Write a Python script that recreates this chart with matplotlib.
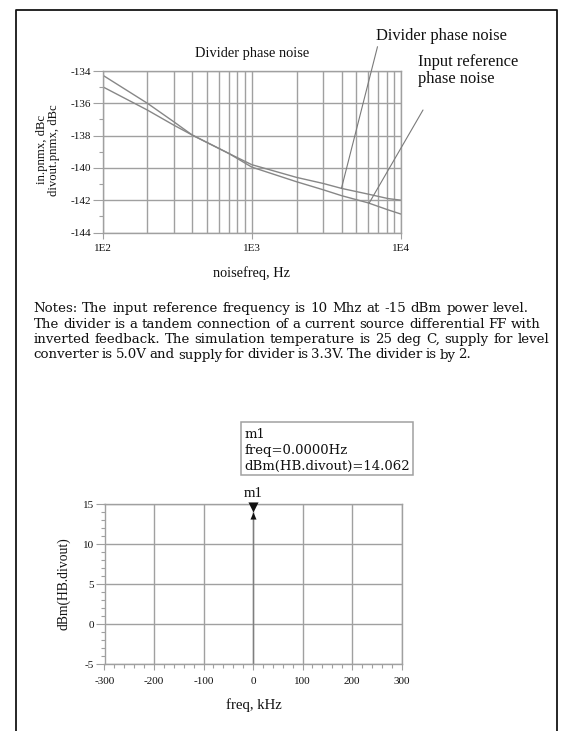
import matplotlib
matplotlib.use('Agg')
import matplotlib.pyplot as plt
import numpy as np
from matplotlib.transforms import Affine2D
from matplotlib.lines import Line2D
from matplotlib.patches import Rectangle
from matplotlib.path import Path
from matplotlib.ticker import MultipleLocator, LogLocator, NullFormatter

# ---------------- data ----------------
noise_freq = [100, 200, 300, 400, 700, 1000, 2000, 3000, 4000, 6000, 8200, 10000]
in_pnmx = [-134.25, -136.0, -137.14, -137.97, -139.1, -139.95, -140.86, -141.35, -141.72, -142.16, -142.6, -142.86]
divout_pnmx = [-134.97, -136.42, -137.35, -137.97, -139.1, -139.8, -140.59, -140.96, -141.27, -141.62, -141.9, -142.0]
top_xticks = [100, 1000, 10000]
top_xticklabels = ['1E2', '1E3', '1E4']
top_yticks = [-144, -142, -140, -138, -136, -134]
annot_freq = [3990, 6110]          # where the callout lines touch the curves
annot_labels = ['Divider phase noise', 'Input reference\nphase noise']

hb_freq_khz = [0.0]
hb_dbm = [14.062]
bot_xticks = [-300, -200, -100, 0, 100, 200, 300]
bot_yticks = [-5, 0, 5, 10, 15]

notes_lines = [
    "Notes: The input reference frequency is 10 Mhz at -15 dBm power level.",
    "The divider is a tandem connection of a current source differential FF with",
    "inverted feedback. The simulation temperature is 25 deg C, supply for level",
    "converter is 5.0V and supply for divider is 3.3V. The divider is by 2.",
]

# ---------------- style ----------------
W, H = 562, 731
TXT = '#111111'
GRID = '#a0a0a0'
CURVE = '#878787'
SERIF = ['Liberation Serif', 'DejaVu Serif']
WIDE = ['DejaVu Serif']
plt.rcParams['font.family'] = SERIF
plt.rcParams['axes.unicode_minus'] = False

fig = plt.figure(figsize=(W / 100, H / 100), dpi=100)
PX = Affine2D().scale(1 / W, -1 / H).translate(0, 1) + fig.transFigure
renderer = fig.canvas.get_renderer()


def fit(txt, target, family=SERIF):
    t = fig.text(0, 0, txt, fontsize=10, family=family)
    w = t.get_window_extent(renderer).width
    t.remove()
    return 10.0 * target / w


def axes_px(l, t, r, b):
    return fig.add_axes([l / W, 1 - b / H, (r - l) / W, (b - t) / H])


TICK_FS = 8.0

# page border
fig.add_artist(Line2D([15.5, 15.5, 557, 557], [745, 10, 10, 745], transform=PX,
                      color='#151515', lw=1.3))

# ---------------- top chart ----------------
ax1 = axes_px(102.5, 71, 401, 232.5)
ax1.set_axisbelow(True)
ax1.plot(noise_freq, in_pnmx, color=CURVE, lw=1.0)
ax1.plot(noise_freq, divout_pnmx, color=CURVE, lw=1.0)
ax1.set_xscale('log')
ax1.set_xlim(top_xticks[0], top_xticks[-1])
ax1.set_ylim(top_yticks[0], top_yticks[-1])
ax1.set_xticks(top_xticks)
ax1.set_xticklabels(top_xticklabels)
ax1.xaxis.set_minor_locator(LogLocator(base=10, subs=np.arange(2, 10)))
ax1.xaxis.set_minor_formatter(NullFormatter())
ax1.set_yticks(top_yticks)
ax1.yaxis.set_minor_locator(MultipleLocator(1))
ax1.grid(which='major', color=GRID, lw=1.0)
ax1.grid(which='minor', axis='x', color=GRID, lw=1.0)
ax1.tick_params(axis='y', which='major', length=7, width=0.8, color=GRID,
                labelsize=TICK_FS, pad=1, labelcolor=TXT)
ax1.tick_params(axis='y', which='minor', length=3, width=0.8, color=GRID)
ax1.tick_params(axis='x', which='major', length=4, width=0.8, color=GRID,
                labelsize=TICK_FS, pad=4, labelcolor=TXT)
ax1.tick_params(axis='x', which='minor', length=0)
for s in ax1.spines.values():
    s.set_color(GRID)
    s.set_linewidth(1.0)

fig.text(252.5, 56.5, 'Divider phase noise', transform=PX, ha='center', va='baseline',
         fontsize=fit('Divider phase noise', 114), color=TXT)
fig.text(251.7, 277, 'noisefreq, Hz', transform=PX, ha='center', va='baseline',
         fontsize=fit('noisefreq, Hz', 77), color=TXT)
fig.text(48, 150, 'in.pnmx, dBc\ndivout.pnmx, dBc', transform=PX, ha='center', va='center',
         rotation=90, multialignment='center', linespacing=1.0,
         fontsize=fit('divout.pnmx, dBc', 92), color=TXT)

# callouts
ANN_FS = fit('Divider phase noise', 131)
series_for_annot = [divout_pnmx, in_pnmx]
text_pos = [(376, 39.5), (418, 83)]
line_start = [(377.5, 46.7), (423, 110)]
for f, ser, lab, tp, ls in zip(annot_freq, series_for_annot, annot_labels, text_pos, line_start):
    yv = np.interp(np.log10(f), np.log10(noise_freq), ser)
    fig.text(tp[0], tp[1], lab, transform=PX, ha='left', va='baseline', fontsize=ANN_FS,
             color=TXT, linespacing=1.1)
    ax1.annotate('', xy=(f, yv), xycoords='data', xytext=ls, textcoords=PX,
                 arrowprops=dict(arrowstyle='-', color='#7a7a7a', lw=0.8,
                                 shrinkA=0, shrinkB=0), annotation_clip=False)

# ---------------- notes ----------------
note_left = 33.5
note_right = [529, 541, 549, 421]
note_base = [312, 327.5, 343, 358.5]
NOTE_FS = float(np.median([fit(l, r - note_left, WIDE) for l, r in zip(notes_lines, note_right)]))
for line, xr, yb in zip(notes_lines, note_right, note_base):
    words = line.split(' ')
    ts = [fig.text(0, 0, w, transform=PX, fontsize=NOTE_FS, family=WIDE, color=TXT,
                   va='baseline', ha='left') for w in words]
    widths = [t.get_window_extent(renderer).width for t in ts]
    gap = (xr - note_left - sum(widths)) / (len(words) - 1)
    gap = max(gap, 0.22 * NOTE_FS * 1.389)
    x = note_left
    for t, w in zip(ts, widths):
        t.set_position((x, yb))
        x += w + gap

# ---------------- bottom chart ----------------
ax2 = axes_px(104.5, 504, 401.5, 664.3)
ax2.set_axisbelow(True)
ax2.set_xlim(bot_xticks[0], bot_xticks[-1])
ax2.set_ylim(bot_yticks[0], bot_yticks[-1])
ax2.set_xticks(bot_xticks)
ax2.set_yticks(bot_yticks)
ax2.xaxis.set_minor_locator(MultipleLocator(20))
ax2.yaxis.set_minor_locator(MultipleLocator(1))
ax2.grid(which='major', color=GRID, lw=1.0)
ax2.tick_params(axis='both', which='major', width=0.8, color=GRID, labelsize=TICK_FS,
                labelcolor=TXT)
ax2.tick_params(axis='y', which='major', length=6.5, pad=1)
ax2.tick_params(axis='x', which='major', length=4, pad=5)
ax2.tick_params(axis='both', which='minor', length=3, width=0.8, color=GRID)
for s in ax2.spines.values():
    s.set_color(GRID)
    s.set_linewidth(1.0)

ybase = ax2.get_ylim()[0]
ax2.vlines(hb_freq_khz, ybase, hb_dbm, color='#7f7f7f', lw=1.0)
hour = Path([(-0.5, 1.0), (0.5, 1.0), (0.0, 0.0), (-0.5, 1.0),
             (0.0, 0.0), (-0.3, -0.7), (0.3, -0.7), (0.0, 0.0)],
            [Path.MOVETO, Path.LINETO, Path.LINETO, Path.CLOSEPOLY,
             Path.MOVETO, Path.LINETO, Path.LINETO, Path.CLOSEPOLY])
ax2.plot(hb_freq_khz, hb_dbm, linestyle='none', marker=hour, markersize=14.5,
         color='#111111', markeredgewidth=0, clip_on=False, zorder=5)
ax2.annotate('m1', xy=(hb_freq_khz[0], hb_dbm[0]), xytext=(0, 10.5),
             textcoords='offset points', ha='center', va='baseline',
             fontsize=fit('m1', 19), color=TXT, annotation_clip=False)

fig.text(254, 709, 'freq, kHz', transform=PX, ha='center', va='baseline',
         fontsize=fit('freq, kHz', 56), color=TXT)
fig.text(64, 584, 'dBm(HB.divout)', transform=PX, ha='center', va='center',
         rotation=90, fontsize=fit('dBm(HB.divout)', 93), color=TXT)

# marker readout box
fig.add_artist(Rectangle((241, 422.3), 172, 52.7, transform=PX, fill=False,
                         ec=GRID, lw=1.1))
box_lines = ['m1',
             'freq=%.4fHz' % (hb_freq_khz[0] * 1000),
             'dBm(HB.divout)=%.3f' % hb_dbm[0]]
BOX_FS = fit(box_lines[2], 166, WIDE)
for txt, yb in zip(box_lines, [438, 454.3, 470]):
    fig.text(244.5, yb, txt, transform=PX, ha='left', va='baseline', fontsize=BOX_FS,
             family=WIDE, color=TXT)

fig.savefig('out.png', dpi=100, facecolor='white')
